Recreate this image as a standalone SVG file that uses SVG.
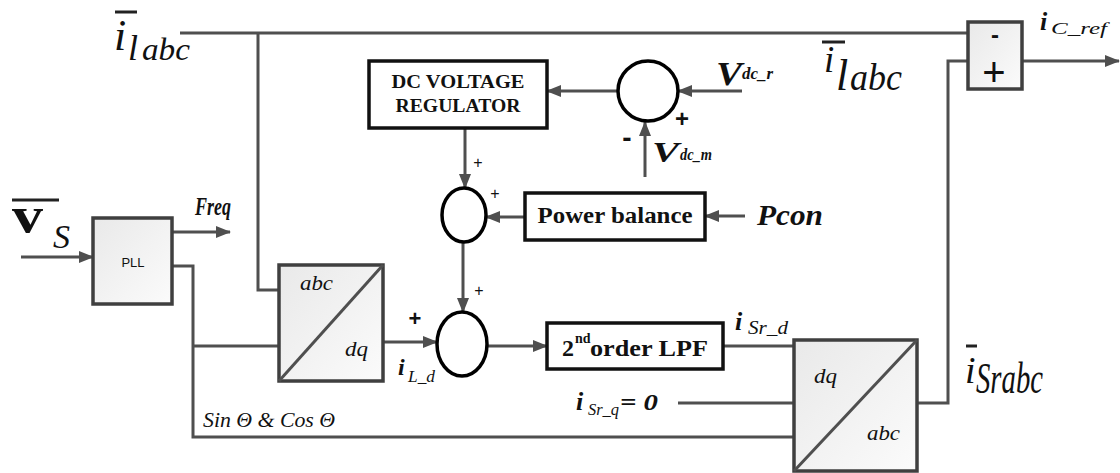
<svg xmlns="http://www.w3.org/2000/svg" width="1120" height="473" viewBox="0 0 1120 473">
<defs>
<linearGradient id="gbox" x1="0" y1="0" x2="1" y2="1">
<stop offset="0" stop-color="#e9e9e9"/>
<stop offset="1" stop-color="#fbfbfb"/>
</linearGradient>
<marker id="arr" markerUnits="userSpaceOnUse" markerWidth="15" markerHeight="14" refX="14" refY="7" orient="auto">
<path d="M0,1 L15,7 L0,13 z" fill="#4f4f4f"/>
</marker>
<style>
.ln{fill:none;stroke:#4f4f4f;stroke-width:3}
.ar{fill:none;stroke:#4f4f4f;stroke-width:3;marker-end:url(#arr)}
.gb{fill:url(#gbox);stroke:#3f3f3f;stroke-width:3.5}
.wb{fill:#fff;stroke:#111;stroke-width:3.5}
.sum{fill:#fff;stroke:#000;stroke-width:3.5}
.ov{stroke:#222;stroke-width:3}
.it{font-family:"Liberation Serif","Times New Roman",serif;font-style:italic;fill:#111}
.bi{font-family:"Liberation Serif","Times New Roman",serif;font-style:italic;font-weight:bold;fill:#111}
.bs{font-family:"Liberation Serif","Times New Roman",serif;font-weight:bold;fill:#111}
.sans{font-family:"Liberation Sans",Arial,sans-serif;fill:#111}
</style>
</defs>
<rect width="1120" height="473" fill="#fff"/>

<g id="connectors">
<path class="ln" d="M180,33 H968"/>
<path class="ln" d="M258,33 V290 H279"/>
<path class="ln" d="M172,266 H193 V437 H794"/>
<path class="ln" d="M193,346 H279"/>
<path class="ln" d="M723,346 H794"/>
<path class="ln" d="M678,403 H794"/>
<path class="ln" d="M917,403 H948 V61 H968"/>
<path class="ar" d="M21,257 H93"/>
<path class="ar" d="M172,232 H230"/>
<path class="ar" d="M384,342 H437"/>
<path class="ar" d="M487,346 H547"/>
<path class="ar" d="M463,242 V312"/>
<path class="ar" d="M465,128 V188"/>
<path class="ar" d="M525,217 H486"/>
<path class="ar" d="M745,216 H705"/>
<path class="ar" d="M618,91 H547"/>
<path class="ar" d="M742,91 H678"/>
<path class="ar" d="M645,177 V122"/>
<path class="ar" d="M1022,61 H1119"/>
</g>

<g id="pll">
<rect class="gb" x="93" y="218" width="79" height="86"/>
<text class="sans" x="133" y="267" font-size="13" text-anchor="middle">PLL</text>
</g>

<g id="abc2dq">
<rect class="gb" x="279" y="265" width="104" height="116"/>
<path class="ln" d="M279,381 L383,265" stroke="#3f3f3f"/>
<text class="it" x="300" y="290" font-size="22" textLength="33" lengthAdjust="spacingAndGlyphs">abc</text>
<text class="it" x="345" y="356" font-size="22" textLength="23" lengthAdjust="spacingAndGlyphs">dq</text>
</g>

<g id="dq2abc">
<rect class="gb" x="794" y="340" width="123" height="131"/>
<path class="ln" d="M794,471 L917,340" stroke="#3f3f3f"/>
<text class="it" x="814" y="383" font-size="22" textLength="23" lengthAdjust="spacingAndGlyphs">dq</text>
<text class="it" x="867" y="440" font-size="22" textLength="33" lengthAdjust="spacingAndGlyphs">abc</text>
</g>

<g id="dc-reg">
<rect class="wb" x="369" y="61" width="178" height="67"/>
<text class="bs" x="458" y="88" font-size="19" text-anchor="middle" textLength="133" lengthAdjust="spacingAndGlyphs">DC VOLTAGE</text>
<text class="bs" x="458" y="112" font-size="19" text-anchor="middle" textLength="125" lengthAdjust="spacingAndGlyphs">REGULATOR</text>
</g>

<g id="sum-vdc">
<circle class="sum" cx="648" cy="91" r="30"/>
</g>

<g id="power-balance">
<rect class="wb" x="525" y="193" width="180" height="47"/>
<text class="bs" x="615" y="223" font-size="24" text-anchor="middle" textLength="155" lengthAdjust="spacingAndGlyphs">Power balance</text>
</g>

<g id="sum-p">
<ellipse class="sum" cx="464" cy="215" rx="22" ry="27"/>
</g>

<g id="sum-d">
<ellipse class="sum" cx="462" cy="344" rx="25" ry="32"/>
</g>

<g id="lpf">
<rect class="wb" x="547" y="323" width="176" height="46"/>
<text class="bs" y="356" font-size="24"><tspan x="562">2</tspan><tspan x="575" dy="-13" font-size="14">nd</tspan><tspan x="590" dy="13" textLength="118" lengthAdjust="spacingAndGlyphs">order LPF</tspan></text>
</g>

<g id="sub-box">
<rect class="gb" x="968" y="22" width="54" height="67"/>
<text class="sans" x="995" y="43" font-size="24" font-weight="bold" text-anchor="middle">-</text>
<text class="sans" x="994" y="86" font-size="40" text-anchor="middle">+</text>
</g>

<g id="labels">
<line class="ov" x1="115" y1="12" x2="137" y2="12"/>
<text class="it"><tspan x="114" y="50" font-size="44">i</tspan><tspan x="128" y="60" font-size="36">l</tspan><tspan x="142" y="60" font-size="32" textLength="48" lengthAdjust="spacingAndGlyphs">abc</tspan></text>

<line class="ov" x1="822" y1="42" x2="845" y2="42"/>
<text class="it"><tspan x="824" y="72" font-size="37">i</tspan><tspan x="836" y="90" font-size="44">l</tspan><tspan x="850" y="90" font-size="38" textLength="52" lengthAdjust="spacingAndGlyphs">abc</tspan></text>

<line class="ov" x1="966" y1="346" x2="977" y2="346"/>
<text class="it"><tspan x="965" y="383" font-size="38">i</tspan><tspan x="976" y="393" font-size="44" textLength="67" lengthAdjust="spacingAndGlyphs">Srabc</tspan></text>

<line class="ov" x1="12" y1="200" x2="59" y2="200"/>
<text><tspan class="bs" x="12" y="232" font-size="50" textLength="31" lengthAdjust="spacingAndGlyphs">v</tspan><tspan class="it" x="53" y="248" font-size="34">S</tspan></text>

<text class="bi" x="195" y="215" font-size="25" textLength="36" lengthAdjust="spacingAndGlyphs">Freq</text>

<text class="it" x="203" y="427" font-size="21" textLength="132" lengthAdjust="spacingAndGlyphs">Sin Θ &amp; Cos Θ</text>

<text><tspan class="bi" x="398" y="375" font-size="24">i</tspan><tspan class="it" x="408" y="382" font-size="16" textLength="27" lengthAdjust="spacingAndGlyphs">L_d</tspan></text>

<text><tspan class="bi" x="735" y="330" font-size="26">i</tspan><tspan class="it" x="748" y="334" font-size="19" textLength="40" lengthAdjust="spacingAndGlyphs">Sr_d</tspan></text>

<text><tspan class="bi" x="576" y="410" font-size="26">i</tspan><tspan class="it" x="588" y="415" font-size="16" textLength="31" lengthAdjust="spacingAndGlyphs">Sr_q</tspan><tspan class="bi" x="620" y="410" font-size="24" textLength="38" lengthAdjust="spacingAndGlyphs">= 0</tspan></text>

<text class="bi"><tspan x="716" y="85" font-size="34" textLength="26" lengthAdjust="spacingAndGlyphs">V</tspan><tspan x="742" y="79" font-size="17" textLength="31" lengthAdjust="spacingAndGlyphs">dc_r</tspan></text>

<text class="bi"><tspan x="652" y="162" font-size="30" textLength="27" lengthAdjust="spacingAndGlyphs">V</tspan><tspan x="680" y="160" font-size="16" textLength="32" lengthAdjust="spacingAndGlyphs">dc_m</tspan></text>

<text class="bi" x="757" y="225" font-size="30" textLength="66" lengthAdjust="spacingAndGlyphs">Pcon</text>

<text><tspan class="bi" x="1040" y="30" font-size="26">i</tspan><tspan class="it" x="1051" y="34" font-size="17" textLength="56" lengthAdjust="spacingAndGlyphs">C_ref</tspan></text>

<text class="sans" x="478" y="168" font-size="16" text-anchor="middle">+</text>
<text class="sans" x="495" y="199" font-size="16" text-anchor="middle">+</text>
<text class="sans" x="479" y="296" font-size="16" text-anchor="middle">+</text>
<text class="sans" x="415" y="326" font-size="22" font-weight="bold" text-anchor="middle">+</text>
<text class="sans" x="682" y="127" font-size="24" font-weight="bold" text-anchor="middle">+</text>
<text class="sans" x="627" y="147" font-size="28" font-weight="bold" text-anchor="middle">-</text>
</g>
</svg>
